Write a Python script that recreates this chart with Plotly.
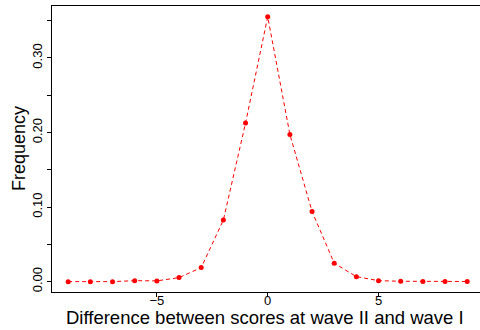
import plotly.graph_objects as go

differences = [-9, -8, -7, -6, -5, -4, -3, -2, -1, 0, 1, 2, 3, 4, 5, 6, 7, 8, 9]
frequency = [0.0, 0.0, 0.0, 0.0013, 0.001, 0.0054, 0.0188, 0.0826, 0.2127, 0.3553,
             0.1975, 0.0942, 0.0247, 0.0067, 0.0013, 0.0005, 0.0003, 0.0002, 0.0002]

x_tick_vals = [-5, 0, 5]
y_tick_vals = [0.0, 0.05, 0.10, 0.15, 0.20, 0.25, 0.30, 0.35]
y_tick_text = ["0.00", "", "0.10", "", "0.20", "", "0.30", ""]

FONT = "Liberation Sans, Arial, sans-serif"

fig = go.Figure()
fig.add_trace(go.Scatter(
    x=differences, y=frequency, mode="lines+markers",
    line=dict(color="#ff0000", width=1, dash="4px,3px"),
    marker=dict(color="#ff0000", size=5),
    showlegend=False, hoverinfo="skip",
))

fig.update_layout(
    width=480, height=330,
    margin=dict(l=52, r=0, t=6, b=38, autoexpand=False),
    paper_bgcolor="white", plot_bgcolor="white",
    font=dict(family=FONT, color="black", size=13),
    xaxis=dict(
        range=[-9.73, 9.576], showgrid=False, zeroline=False, automargin=False,
        showline=True, mirror=True, linecolor="black", linewidth=1,
        ticks="outside", ticklen=4, tickcolor="black",
        tickvals=x_tick_vals, ticktext=["\u22125", "0", "5"],
        tickfont=dict(size=13, family=FONT), ticklabelstandoff=-8,
    ),
    yaxis=dict(
        range=[-0.0139, 0.3697], showgrid=False, zeroline=False, automargin=False,
        showline=True, linecolor="black", linewidth=1,
        ticks="outside", ticklen=4, tickcolor="black",
        tickvals=y_tick_vals, ticktext=y_tick_text, tickangle=-90,
        tickfont=dict(size=13, family=FONT),
    ),
    annotations=[
        dict(text="Difference between scores at wave II and wave I",
             xref="paper", yref="paper", x=(265 - 52) / 428, y=(292 - 317) / 286,
             xanchor="center", yanchor="middle", showarrow=False,
             font=dict(size=18.5, family=FONT)),
        dict(text="Frequency", xref="paper", yref="paper",
             x=(19 - 52) / 428, y=0.5, xanchor="center", yanchor="middle",
             textangle=-90, showarrow=False, font=dict(size=18, family=FONT)),
    ],
)

fig.write_html("out.html", config={"displayModeBar": False, "staticPlot": True},
               post_script="document.body.style.margin='0';document.body.style.overflow='hidden';")
